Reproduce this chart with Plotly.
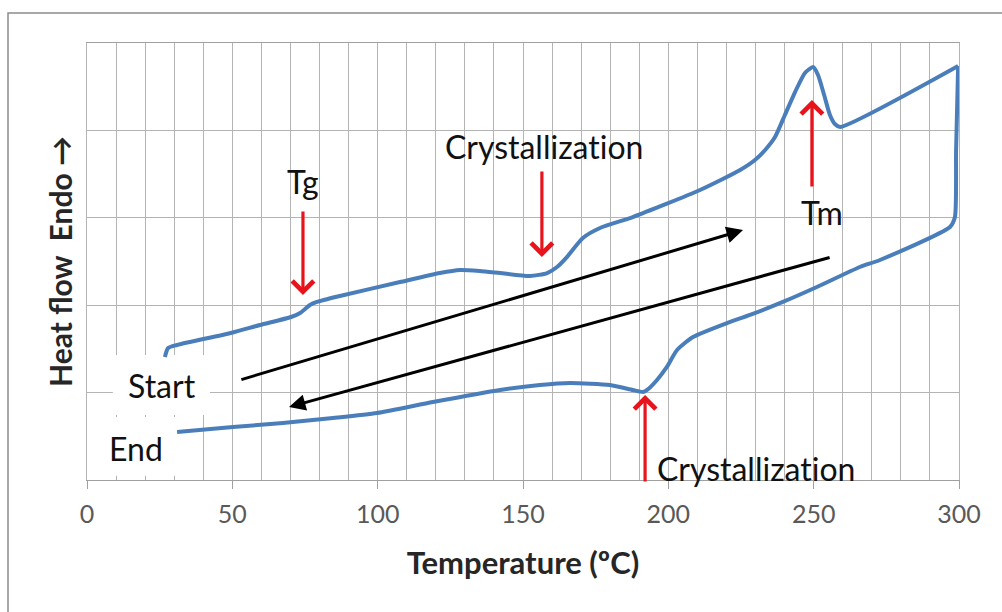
import plotly.graph_objects as go

# Heating scan (°C, heat flow in arbitrary units)
heat_T = [26.8, 27.9, 31.0, 49.5, 59.5, 70.2, 73.3, 76.7, 79.1, 87.0, 107.7, 121.4, 128.3,
          135.2, 142.1, 152.4, 158.3, 161.7, 165.1, 170.6, 176.5, 187.8, 210.9, 224.7, 229.8,
          233.3, 236.7, 240.1, 243.6, 247.0, 249.8, 251.5, 253.6, 255.6, 257.3, 259.1, 299.7]
heat_Q = [1.407, 1.510, 1.545, 1.682, 1.773, 1.865, 1.911, 2.002, 2.037, 2.105, 2.265, 2.368, 2.403,
          2.391, 2.368, 2.334, 2.368, 2.437, 2.551, 2.769, 2.883, 3.009, 3.318, 3.547, 3.661,
          3.776, 3.924, 4.176, 4.439, 4.657, 4.725, 4.634, 4.405, 4.176, 4.073, 4.039, 4.737]

# Cooling scan
cool_T = [299.7, 299.0, 298.6, 296.9, 272.8, 265.9, 251.1, 239.4, 228.1, 220.2, 208.5, 203.0,
          199.5, 196.1, 192.7, 191.3, 187.8, 179.9, 166.2, 155.8, 142.1, 119.0, 99.8, 84.6,
          67.4, 50.2, 31.0]
cool_Q = [4.737, 3.776, 3.009, 2.895, 2.517, 2.437, 2.208, 2.037, 1.888, 1.796, 1.636, 1.487,
          1.293, 1.144, 1.030, 1.007, 1.030, 1.087, 1.110, 1.087, 1.030, 0.892, 0.767, 0.709,
          0.652, 0.606, 0.549]

x_ticks = [0, 50, 100, 150, 200, 250, 300]

# Text labels (ZWNJ keeps the "ti" ligature from forming)
label_text = ["Tg", "Crystallizat\u200cion", "Tm", "Crystallizat\u200cion", "Start", "End"]
label_x = [74.3, 157.2, 252.8, 230.1, 25.8, 16.9]
label_y = [3.41, 3.82, 3.055, 0.137, 1.076, 0.366]

# Red marker arrows (tail -> head)
red_tail_x = [74.3, 156.5, 249.4, 192.0]
red_tail_y = [3.089, 3.547, 3.341, -0.034]
red_head_x = [74.3, 156.5, 249.4, 192.0]
red_head_y = [2.117, 2.551, 4.348, 0.973]

# Black direction arrows (tail -> head)
blk_tail_x = [52.6, 256.0]
blk_tail_y = [1.144, 2.551]
blk_head_x = [225.7, 69.5]
blk_head_y = [2.860, 0.835]

BLUE = "#4a7ebb"
GRID = "#b4b4b4"
FONT = "Lato"

fig = go.Figure()
fig.add_trace(go.Scatter(x=heat_T, y=heat_Q, mode="lines", name="Heating",
                         line=dict(color=BLUE, width=4, shape="spline", smoothing=0.6),
                         showlegend=False, hoverinfo="skip"))
fig.add_trace(go.Scatter(x=cool_T, y=cool_Q, mode="lines", name="Cooling",
                         line=dict(color=BLUE, width=4, shape="spline", smoothing=0.6),
                         showlegend=False, hoverinfo="skip"))

annotations = []
for t, x, y in zip(label_text, label_x, label_y):
    annotations.append(dict(x=x, y=y, xref="x", yref="y", text=t, showarrow=False,
                            xanchor="center", yanchor="middle",
                            font=dict(family=FONT, size=32, color="#111111")))
for tx, ty, hx, hy in zip(red_tail_x, red_tail_y, red_head_x, red_head_y):
    annotations.append(dict(x=hx, y=hy, ax=tx, ay=ty, xref="x", yref="y", axref="x", ayref="y",
                            text="", showarrow=True, arrowhead=4, arrowsize=1.3, arrowwidth=3.2,
                            arrowcolor="#e8141c", standoff=0, startstandoff=0))
for tx, ty, hx, hy in zip(blk_tail_x, blk_tail_y, blk_head_x, blk_head_y):
    annotations.append(dict(x=hx, y=hy, ax=tx, ay=ty, xref="x", yref="y", axref="x", ayref="y",
                            text="", showarrow=True, arrowhead=2, arrowsize=1.1, arrowwidth=3,
                            arrowcolor="#000000", standoff=0, startstandoff=0))

shapes = [
    # white boxes behind Start / End labels
    dict(type="rect", xref="x", yref="y", x0=8.9, x1=42.3, y0=0.744, y1=1.43,
         fillcolor="white", line=dict(width=0), layer="between"),
    dict(type="rect", xref="x", yref="y", x0=-0.5, x1=37.5, y0=0.05, y1=0.72,
         fillcolor="white", line=dict(width=0), layer="between"),
    # outer frame
    dict(type="rect", xref="paper", yref="paper", x0=-0.0906, x1=1.07, y0=-0.4, y1=1.0686,
         fillcolor="rgba(0,0,0,0)", line=dict(color="#8c8c8c", width=1.5), layer="above"),
]

fig.update_layout(
    width=1002, height=612,
    margin=dict(l=87, r=43, t=43, b=132),
    paper_bgcolor="white", plot_bgcolor="white",
    annotations=annotations, shapes=shapes,
    font=dict(family=FONT),
)
fig.update_xaxes(
    range=[0, 300], tickvals=x_ticks, ticktext=[str(v) for v in x_ticks],
    showgrid=True, gridcolor=GRID, gridwidth=1,
    minor=dict(dtick=10, showgrid=True, gridcolor=GRID, gridwidth=1),
    zeroline=False, showline=True, linecolor="#a0a0a0", linewidth=1, mirror=True,
    ticks="outside", ticklen=8, tickcolor="#a0a0a0", tickwidth=1,
    ticklabelstandoff=4,
    tickfont=dict(family=FONT, size=25, color="#595959"),
    title=dict(text="Temperature (ºC)", standoff=25,
               font=dict(family=FONT, size=31, color="#262626", weight="bold")),
)
fig.update_yaxes(
    range=[0, 5], dtick=1, showticklabels=False,
    showgrid=True, gridcolor=GRID, gridwidth=1,
    zeroline=False, showline=True, linecolor=GRID, linewidth=1, mirror=True,
    title=dict(text="Heat flow\u00a0\u00a0Endo →", standoff=4,
               font=dict(family=FONT, size=30, color="#262626", weight="bold")),
)

fig.write_html("out.html")
